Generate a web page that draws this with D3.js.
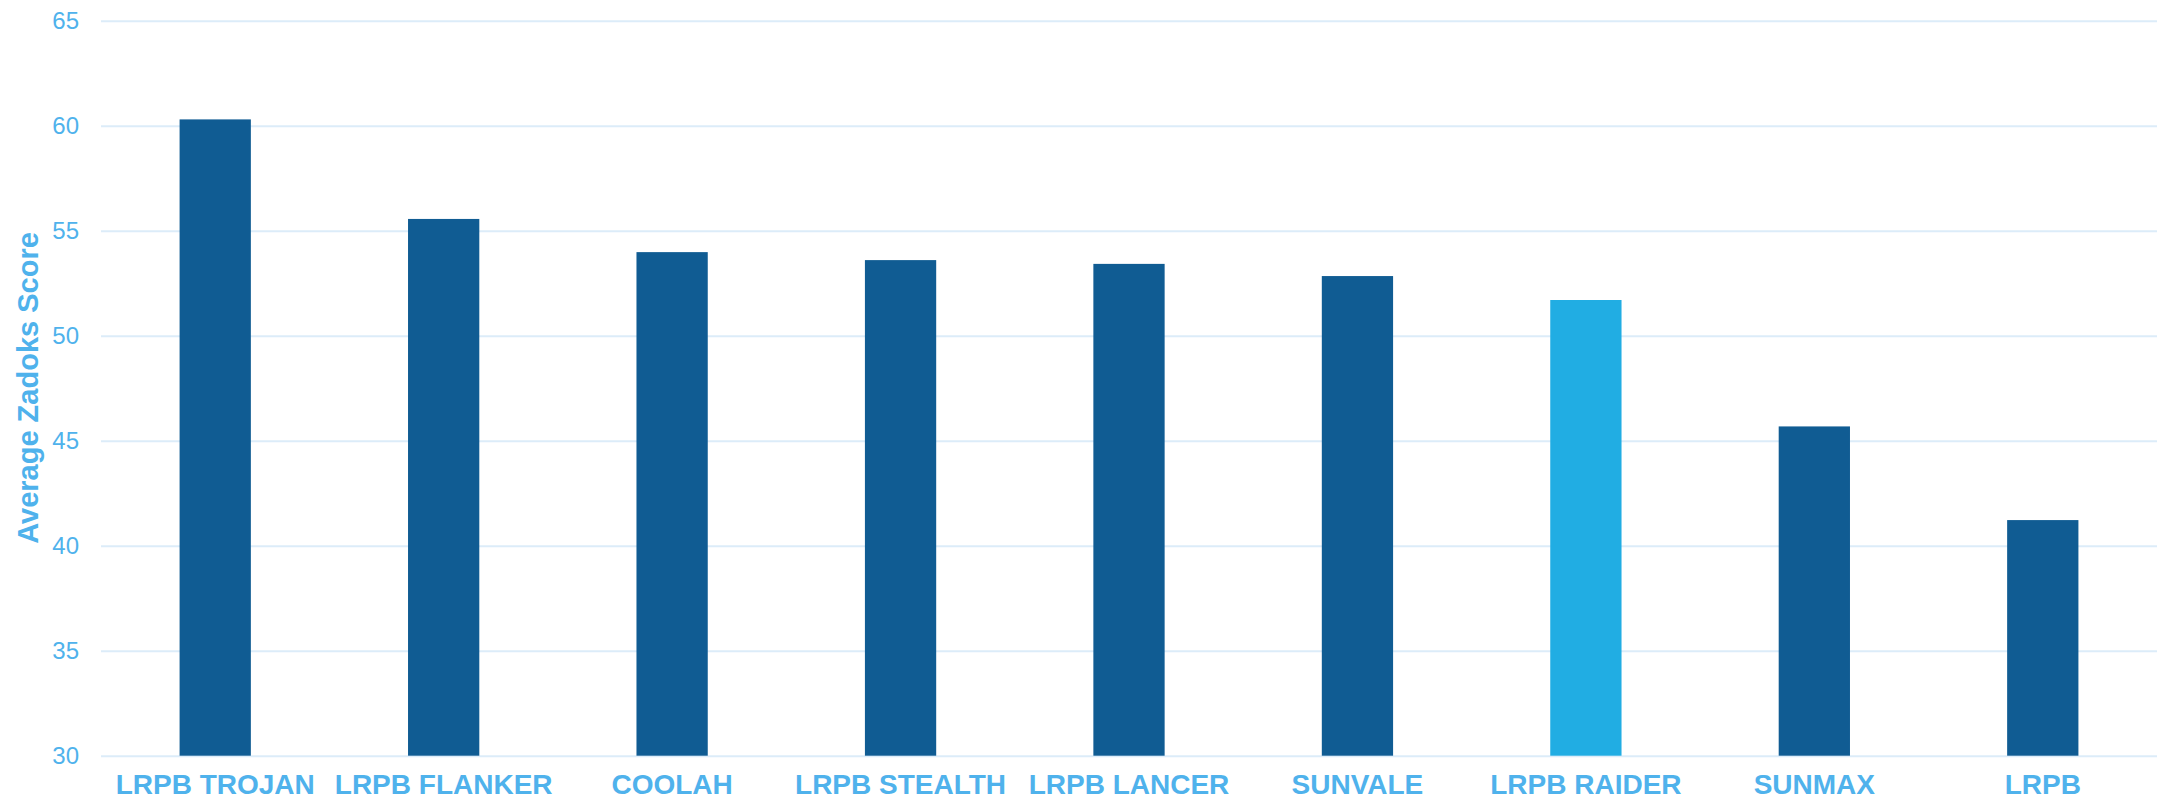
<!DOCTYPE html>
<html>
<head>
<meta charset="utf-8">
<script src="https://cdn.jsdelivr.net/npm/d3@7"></script>
<style>
  html, body { margin: 0; padding: 0; background: #ffffff; }
  svg { display: block; }
</style>
</head>
<body>
<svg id="chart" width="2163" height="801"></svg>
<script>
const categories = ["LRPB TROJAN", "LRPB FLANKER", "COOLAH", "LRPB STEALTH", "LRPB LANCER", "SUNVALE", "LRPB RAIDER", "SUNMAX", "LRPB"];
const scores = [60.3, 55.56, 53.98, 53.6, 53.42, 52.84, 51.7, 45.68, 41.22];
const yTicks = [30, 35, 40, 45, 50, 55, 60, 65];
const highlighted = ["LRPB RAIDER"];
const yTitle = "Average Zadoks Score";

(function () {
const plotLeft = 101, plotRight = 2157, plotTop = 20.7, plotBottom = 755.7;
const textColor = "#4FB2EC";
const gridColor = "#DCECF9";
const barColor = "#105C93";
const hiColor = "#21ADE3";

const svg = d3.select("#chart");

const x = d3.scaleBand().domain(categories).range([plotLeft, plotRight]).paddingInner(0.688).paddingOuter(0.344);
const y = d3.scaleLinear().domain([30, 65]).range([plotBottom, plotTop]);

// grid + y labels
const yAxis = svg.append("g")
  .attr("transform", `translate(${plotLeft},0)`)
  .call(d3.axisLeft(y).tickValues(yTicks).tickSize(-(plotRight - plotLeft)).tickPadding(22).tickFormat(d3.format("d")));
yAxis.select(".domain").remove();
yAxis.selectAll(".tick line").attr("stroke", gridColor).attr("stroke-width", 2);
yAxis.selectAll(".tick text")
  .attr("fill", textColor)
  .style("font-family", "Liberation Sans, Arial, sans-serif")
  .style("font-size", "24px");

// bars
const data = categories.map((c, i) => ({ c, v: scores[i] }));
svg.append("g").selectAll("rect").data(data).join("rect")
  .attr("x", d => x(d.c))
  .attr("width", x.bandwidth())
  .attr("y", d => y(d.v))
  .attr("height", d => y(30) - y(d.v))
  .attr("fill", d => highlighted.includes(d.c) ? hiColor : barColor);

// x labels
const xAxis = svg.append("g")
  .attr("transform", `translate(0,${plotBottom})`)
  .call(d3.axisBottom(x).tickSize(0).tickPadding(18));
xAxis.select(".domain").remove();
xAxis.selectAll(".tick text")
  .attr("fill", textColor)
  .style("font-family", "Liberation Sans, Arial, sans-serif")
  .style("font-weight", "bold")
  .style("font-size", "28px");

// y title
svg.append("text")
  .attr("transform", `translate(38,388) rotate(-90)`)
  .attr("text-anchor", "middle")
  .attr("fill", textColor)
  .style("font-family", "Liberation Sans, Arial, sans-serif")
  .style("font-weight", "bold")
  .style("font-size", "29px")
  .text(yTitle);
})();
</script>
</body>
</html>
